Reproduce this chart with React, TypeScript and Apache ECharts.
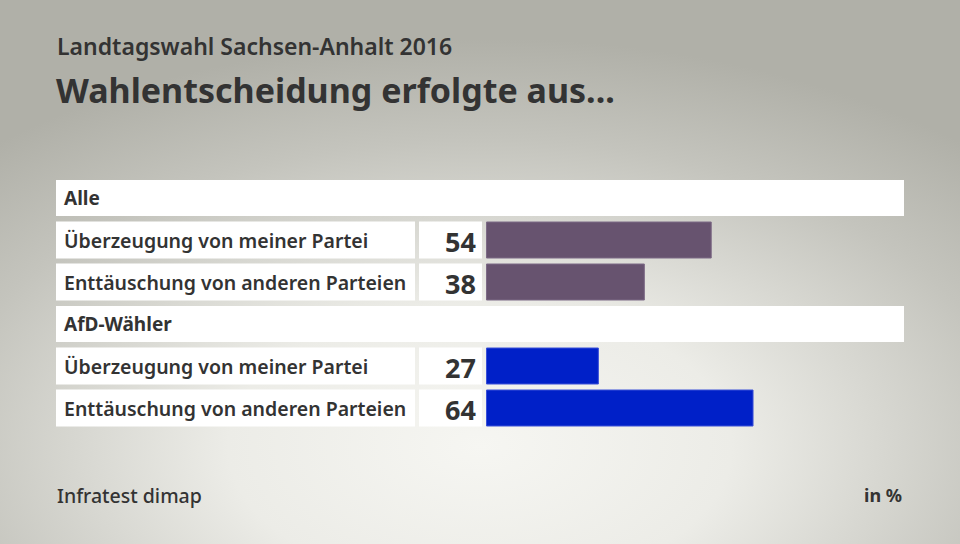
import React, { useEffect, useRef } from "react";
import * as echarts from "echarts";

const categories = [
  "Alle",
  "Überzeugung von meiner Partei",
  "Enttäuschung von anderen Parteien",
  "AfD-Wähler",
  "Überzeugung von meiner Partei",
  "Enttäuschung von anderen Parteien",
];
const isHeader = [true, false, false, true, false, false];
const values: (number | null)[] = [null, 54, 38, null, 27, 64];
const barColors = ["", "#67536f", "#67536f", "", "#0020c8", "#0020c8"];
const borderColors = ["", "#7d6a86", "#7d6a86", "", "#3a50d8", "#3a50d8"];

const FONT = "'Noto Sans', 'Open Sans', sans-serif";
const TEXT = "#333333";

export default function App() {
  const ref = useRef<HTMLDivElement>(null);
  useEffect(() => {
    if (!ref.current) return;
    const chart = echarts.init(ref.current, null, { renderer: "svg" });
    chart.setOption({
      animation: false,
      graphic: [
        {
          type: "rect",
          z: -10,
          shape: { x: 0, y: 0, width: 960, height: 544 },
          style: {
            fill: {
              type: "radial",
              x: 0.5,
              y: 0.82,
              r: 0.75,
              colorStops: [
                { offset: 0, color: "#f6f6f2" },
                { offset: 0.35, color: "#ecece7" },
                { offset: 0.75, color: "#c4c4bd" },
                { offset: 1, color: "#b0b0a8" },
              ],
            },
          },
          silent: true,
        },
        {
          type: "text",
          left: 57,
          top: 34,
          style: {
            text: "Landtagswahl Sachsen-Anhalt 2016",
            font: `600 23px ${FONT}`,
            fill: TEXT,
          },
        },
        {
          type: "text",
          left: 56,
          top: 73,
          style: {
            text: "Wahlentscheidung erfolgte aus...",
            font: `bold 34px ${FONT}`,
            fill: TEXT,
          },
        },
        {
          type: "text",
          left: 57,
          top: 485,
          style: {
            text: "Infratest dimap",
            font: `500 19.5px ${FONT}`,
            fill: TEXT,
          },
        },
        {
          type: "text",
          right: 58,
          top: 486,
          style: {
            text: "in %",
            font: `bold 18px ${FONT}`,
            fill: TEXT,
          },
        },
      ],
      grid: { left: 486, right: 56, top: 177, height: 252, containLabel: false },
      xAxis: {
        type: "value",
        min: 0,
        max: 100,
        show: false,
      },
      yAxis: {
        type: "category",
        data: categories,
        inverse: true,
        show: false,
      },
      series: [
        {
          type: "custom",
          z: 1,
          clip: false,
          data: categories.map((c, i) => [0, i]),
          encode: { x: 0, y: 1 },
          renderItem: (params: any, api: any) => {
            const idx = params.dataIndex;
            const yc = api.coord([0, idx])[1];
            if (isHeader[idx]) {
              return {
                type: "group",
                children: [
                  {
                    type: "rect",
                    shape: { x: 56, y: yc - 18, width: 848, height: 36 },
                    style: { fill: "#ffffff" },
                  },
                  {
                    type: "text",
                    x: 64,
                    y: yc,
                    style: {
                      text: categories[idx],
                      font: `bold 19px ${FONT}`,
                      fill: TEXT,
                      verticalAlign: "middle",
                      align: "left",
                    },
                  },
                ],
              };
            }
            return {
              type: "group",
              children: [
                {
                  type: "rect",
                  shape: { x: 56, y: yc - 18.5, width: 359, height: 37 },
                  style: { fill: "#ffffff" },
                },
                {
                  type: "rect",
                  shape: { x: 419, y: yc - 18.5, width: 63, height: 37 },
                  style: { fill: "#ffffff" },
                },
                {
                  type: "text",
                  x: 64,
                  y: yc,
                  style: {
                    text: categories[idx],
                    font: `600 19.5px ${FONT}`,
                    fill: TEXT,
                    verticalAlign: "middle",
                    align: "left",
                  },
                },
                {
                  type: "text",
                  x: 476,
                  y: yc + 1,
                  style: {
                    text: String(values[idx]),
                    font: `bold 27px ${FONT}`,
                    fill: TEXT,
                    verticalAlign: "middle",
                    align: "right",
                  },
                },
              ],
            };
          },
        },
        {
          type: "bar",
          z: 2,
          barWidth: 37,
          data: values.map((v, i) =>
            v == null
              ? null
              : {
                  value: v,
                  itemStyle: {
                    color: barColors[i],
                    borderColor: borderColors[i],
                    borderWidth: 1,
                  },
                }
          ),
        },
      ],
    });
    return () => chart.dispose();
  }, []);
  return <div ref={ref} style={{ width: 960, height: 544, position: "absolute", left: 0, top: 0 }} />;
}
